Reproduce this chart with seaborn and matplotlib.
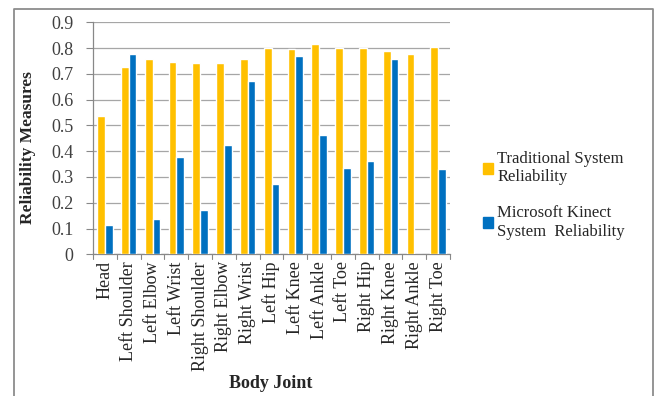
import matplotlib
matplotlib.use("Agg")
import matplotlib.pyplot as plt
import matplotlib.patches as mpatches
import seaborn as sns
import pandas as pd

joints = ["Head", "Left Shoulder", "Left Elbow", "Left Wrist", "Right Shoulder",
          "Right Elbow", "Right Wrist", "Left Hip", "Left Knee", "Left Ankle",
          "Left Toe", "Right Hip", "Right Knee", "Right Ankle", "Right Toe"]
traditional = [0.536, 0.725, 0.758, 0.745, 0.743, 0.743, 0.758, 0.801, 0.796,
               0.816, 0.801, 0.801, 0.790, 0.778, 0.805]
kinect = [0.114, 0.777, 0.137, 0.379, 0.171, 0.424, 0.671, 0.271, 0.770,
          0.461, 0.333, 0.363, 0.759, 0.002, 0.331]
series_names = ["Traditional System\nReliability", "Microsoft Kinect\nSystem  Reliability"]
colors = ["#FFC000", "#0070C0"]

df = pd.DataFrame({
    "joint": joints * 2,
    "value": traditional + kinect,
    "series": [series_names[0]] * len(joints) + [series_names[1]] * len(joints),
})

sns.set_style("white")
plt.rcParams["font.family"] = ["Liberation Serif", "DejaVu Serif"]

fig = plt.figure(figsize=(6.55, 3.96), dpi=100)
ax = fig.add_axes([93 / 655, 1 - 254.3 / 396, (450 - 93) / 655, (254.3 - 22.3) / 396])

sns.barplot(data=df, x="joint", y="value", hue="series", palette=colors,
            width=0.64, gap=0.0, saturation=1, ax=ax, legend=False, zorder=3)

ax.set_ylim(0, 0.9)
ax.set_yticks([i / 10 for i in range(10)])
ax.set_yticklabels(["0"] + [f"{i / 10:.1f}" for i in range(1, 10)], fontsize=13, color="#404040")
ax.set_xlim(-0.5, len(joints) - 0.5)
ax.set_xticks(range(len(joints)))
ax.set_xticklabels(joints, rotation=90, fontsize=13)
ax.tick_params(axis="x", length=0, pad=5)
ax.tick_params(axis="y", length=5, color="#888888", direction="out", left=True, pad=9)

# category separators on the x axis
for i in range(len(joints) + 1):
    ax.plot([i - 0.5, i - 0.5], [0, -0.017], color="#888888", lw=0.8,
            clip_on=False, transform=ax.transData)

ax.grid(axis="y", color="#A6A6A6", lw=0.9, zorder=0)
ax.set_axisbelow(True)
for side in ["top", "right"]:
    ax.spines[side].set_visible(False)
for side in ["left", "bottom"]:
    ax.spines[side].set_color("#888888")
    ax.spines[side].set_linewidth(0.9)

ax.set_xlabel("")
ax.set_ylabel("Reliability Measures", fontsize=12.5, fontweight="bold")
ax.yaxis.set_label_coords(-0.16, 0.46)
fig.text(271 / 655, 1 - 384 / 396, "Body Joint", ha="center", va="center",
         fontsize=13, fontweight="bold")

handles = [mpatches.Patch(color=c, label=n) for c, n in zip(colors, series_names)]
fig.legend(handles=handles, loc="upper left", bbox_to_anchor=(468 / 655, 1 - 136 / 396),
           frameon=False, fontsize=12, handlelength=0.6, handleheight=0.6,
           handletextpad=0.25, labelspacing=1.2)

# outer chart frame (open at the bottom edge)
frame_top = 1 - 8.5 / 396
frame_left = 14 / 655
frame_right = 653 / 655
fig.add_artist(plt.Line2D([frame_left, frame_left, frame_right, frame_right],
                          [-0.01, frame_top, frame_top, -0.01],
                          transform=fig.transFigure, color="#8C8C8C", lw=1.3))

fig.savefig("out.png", dpi=100)
